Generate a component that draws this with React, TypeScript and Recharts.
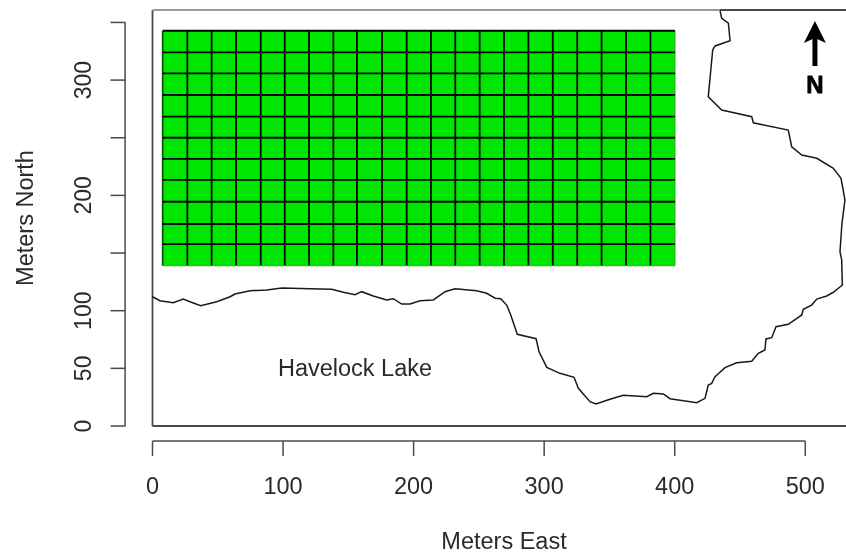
import React from "react";
import {
  ComposedChart,
  Line,
  XAxis,
  YAxis,
  ReferenceArea,
  ReferenceLine,
  ReferenceDot,
} from "recharts";

// quadrat edges of the plot, in meters
const gridEast = [
  7.8, 26.7, 45.3, 64, 82.9, 101.3, 119.9, 138.5, 156.6, 175.8, 194.7, 213.3,
  231.9, 250.6, 269.2, 287.9, 306.6, 325.3, 344, 362.7, 381.4, 400.2,
];
const gridNorth = [
  139, 157.8, 175.2, 194.5, 213.4, 231.6, 250, 268.3, 287.1, 305.9, 324.1, 342.8,
];

// lake shoreline, traced from west to north
const shoreEast = [
  0, 5.7, 15.9, 23.6, 28.7, 36.9, 49.2, 59.4, 63.2, 74.7, 87.5, 99, 120.6, 137.3,
  146.2, 155.1, 160.2, 169.1, 179.4, 184.4, 190.9, 197.2, 204.9, 215.1, 224.1,
  231.7, 248.3, 256, 262.4, 266.7, 271.3, 274.4, 279.4, 293.8, 296.1, 302, 312.1,
  322.9, 326.2, 335.1, 339.7, 350.4, 360.6, 378.6, 383.6, 391.3, 396.4, 416.9,
  423.2, 425.7, 428.3, 430.9, 438.5, 447.5, 459, 464, 469.1, 469.9, 474.3, 477.6,
  487, 497.3, 498.5, 504.9, 508.8, 516.4, 521.5, 528.4, 527.9, 526.6, 528.1, 530.4,
  527.4, 521.5, 508.8, 497.3, 489.6, 487, 460.2, 459, 436, 425.7, 429.1, 430.9,
  442.4, 441.1, 436, 434.7,
];
const shoreNorth = [
  112.1, 108.7, 106.9, 110.1, 107.8, 104.3, 107.8, 112.1, 114.5, 117.3, 118, 119.7,
  119.1, 118.6, 116, 113.9, 116.5, 112.8, 109.3, 110.4, 105.8, 105.8, 108.7, 109.3,
  116.5, 119.1, 117.3, 115.1, 110.8, 110.4, 104.9, 96.3, 79.5, 75.7, 64.4, 50.9,
  45.7, 42.2, 32.7, 21.1, 19.1, 23.2, 26.6, 25.4, 28.4, 27.8, 23.7, 20.2, 24, 35.6,
  37, 42.8, 50.6, 54.9, 56.1, 63.1, 65.9, 75.5, 76.6, 86.1, 88.2, 96.3, 101.2,
  104.9, 110.1, 112.8, 116, 122.3, 144, 151.2, 175.8, 196, 214.8, 223.5, 232.2, 235,
  242.2, 256.7, 263, 268.3, 274.1, 285.6, 326.1, 329.6, 334.2, 349.3, 353.6, 360.2,
];

const xTicks = [0, 100, 200, 300, 400, 500];
const yTicks = [0, 50, 100, 150, 200, 250, 300, 350];
const yLabelled = [0, 50, 100, 200, 300];

const shoreline = shoreEast.map((east, i) => ({ east, north: shoreNorth[i] }));

const FONT = "'Liberation Sans', Arial, sans-serif";
const INK = "#2a2a2a";
const FRAME = "#4a4a4a";
const X_MAX = 531.2;
const Y_MAX = 360.8;

const XTick = (props: any) => {
  const { x, y, payload } = props;
  return (
    <g>
      <line x1={x} x2={x} y1={y + 15} y2={y + 30} stroke={FRAME} strokeWidth={1.5} />
      <text x={x} y={y + 68} textAnchor="middle" fontFamily={FONT} fontSize={23.5} fill={INK}>
        {payload.value}
      </text>
    </g>
  );
};

const YTick = (props: any) => {
  const { x, y, payload } = props;
  return (
    <g>
      <line x1={x - 42} x2={x - 27} y1={y} y2={y} stroke={FRAME} strokeWidth={1.5} />
      {yLabelled.includes(payload.value) && (
        <text
          transform={`translate(${x - 61.5} ${y}) rotate(-90)`}
          textAnchor="middle"
          fontFamily={FONT}
          fontSize={23}
          fill={INK}
        >
          {payload.value}
        </text>
      )}
    </g>
  );
};

const NorthArrow = (props: any) => {
  const { cx, cy } = props;
  return (
    <g>
      <rect x={cx - 2.5} y={cy - 30} width={5} height={30} fill="#000" />
      <polygon
        points={`${cx},${cy - 45} ${cx + 11},${cy - 23} ${cx},${cy - 28} ${cx - 11},${cy - 23}`}
        fill="#000"
      />
      <text
        x={cx}
        y={cy + 27}
        textAnchor="middle"
        fontFamily={FONT}
        fontWeight="bold"
        fontSize={24}
        fill="#000"
        stroke="#000"
        strokeWidth={0.8}
      >
        N
      </text>
    </g>
  );
};

export default function App() {
  return (
    <div style={{ position: "absolute", left: 0, top: 0, width: 846, height: 554, overflow: "hidden", background: "#fff" }}>
      <ComposedChart
        width={846}
        height={554}
        data={shoreline}
        margin={{ top: 10, right: 0, bottom: 127, left: 151.5 }}
        style={{ filter: "blur(0.5px)" }}
      >
        <XAxis
          dataKey="east"
          type="number"
          domain={[0, X_MAX]}
          ticks={xTicks}
          height={1}
          axisLine={false}
          tickLine={false}
          tickSize={0}
          tickMargin={0}
          interval={0}
          tick={XTick}
        />
        <YAxis
          type="number"
          domain={[0, Y_MAX]}
          ticks={yTicks}
          width={1}
          axisLine={false}
          tickLine={false}
          tickSize={0}
          tickMargin={0}
          interval={0}
          tick={YTick}
        />

        {gridEast.slice(0, -1).map((x1, i) =>
          gridNorth.slice(0, -1).map((y1, j) => (
            <ReferenceArea
              key={`${i}-${j}`}
              x1={x1}
              x2={gridEast[i + 1]}
              y1={y1}
              y2={gridNorth[j + 1]}
              fill="#00E600"
              fillOpacity={1}
              stroke="none"
            />
          ))
        )}
        {gridEast.map((x, i) => (
          <ReferenceLine
            key={`v${i}`}
            segment={[
              { x, y: gridNorth[0] },
              { x, y: gridNorth[gridNorth.length - 1] },
            ]}
            stroke={i === 0 ? "#0b5a0b" : i === gridEast.length - 1 ? "#2fa82f" : "#050505"}
            strokeWidth={i === gridEast.length - 1 ? 1 : 1.8}
          />
        ))}
        {gridNorth.map((y, j) => (
          <ReferenceLine
            key={`h${j}`}
            segment={[
              { x: gridEast[0], y },
              { x: gridEast[gridEast.length - 1], y },
            ]}
            stroke={j === 0 ? "#2fa82f" : "#050505"}
            strokeWidth={j === 0 ? 1 : 1.8}
          />
        ))}

        {/* plot frame, the right side falls outside the picture */}
        <ReferenceLine segment={[{ x: 0, y: 0 }, { x: 0, y: Y_MAX }]} stroke={FRAME} strokeWidth={1.8} />
        <ReferenceLine segment={[{ x: 0, y: 0 }, { x: X_MAX, y: 0 }]} stroke={FRAME} strokeWidth={1.8} />
        <ReferenceLine segment={[{ x: 0, y: Y_MAX }, { x: 434.7, y: Y_MAX }]} stroke="#9a9a9a" strokeWidth={2} />
        <ReferenceLine segment={[{ x: 434.7, y: Y_MAX }, { x: X_MAX, y: Y_MAX }]} stroke={FRAME} strokeWidth={2} />

        {/* detached axis lines */}
        <ReferenceLine
          segment={[{ x: -21, y: 0 }, { x: -21, y: 350 }]}
          stroke={FRAME}
          strokeWidth={1.5}
          ifOverflow="visible"
        />
        <ReferenceLine
          segment={[{ x: 0, y: -13 }, { x: 500, y: -13 }]}
          stroke={FRAME}
          strokeWidth={1.5}
          ifOverflow="visible"
        />

        <Line
          dataKey="north"
          type="linear"
          stroke="#1a1a1a"
          strokeWidth={1.5}
          dot={false}
          activeDot={false}
          isAnimationActive={false}
        />

        <ReferenceDot x={507.4} y={312.2} r={0} shape={<NorthArrow />} />

        <text x={355} y={376} textAnchor="middle" fontFamily={FONT} fontSize={23.5} fill={INK}>
          Havelock Lake
        </text>
        <text x={504} y={549} textAnchor="middle" fontFamily={FONT} fontSize={23.5} fill={INK}>
          Meters East
        </text>
        <text
          transform="translate(33 218) rotate(-90)"
          textAnchor="middle"
          fontFamily={FONT}
          fontSize={23.5}
          fill={INK}
        >
          Meters North
        </text>
      </ComposedChart>
    </div>
  );
}
